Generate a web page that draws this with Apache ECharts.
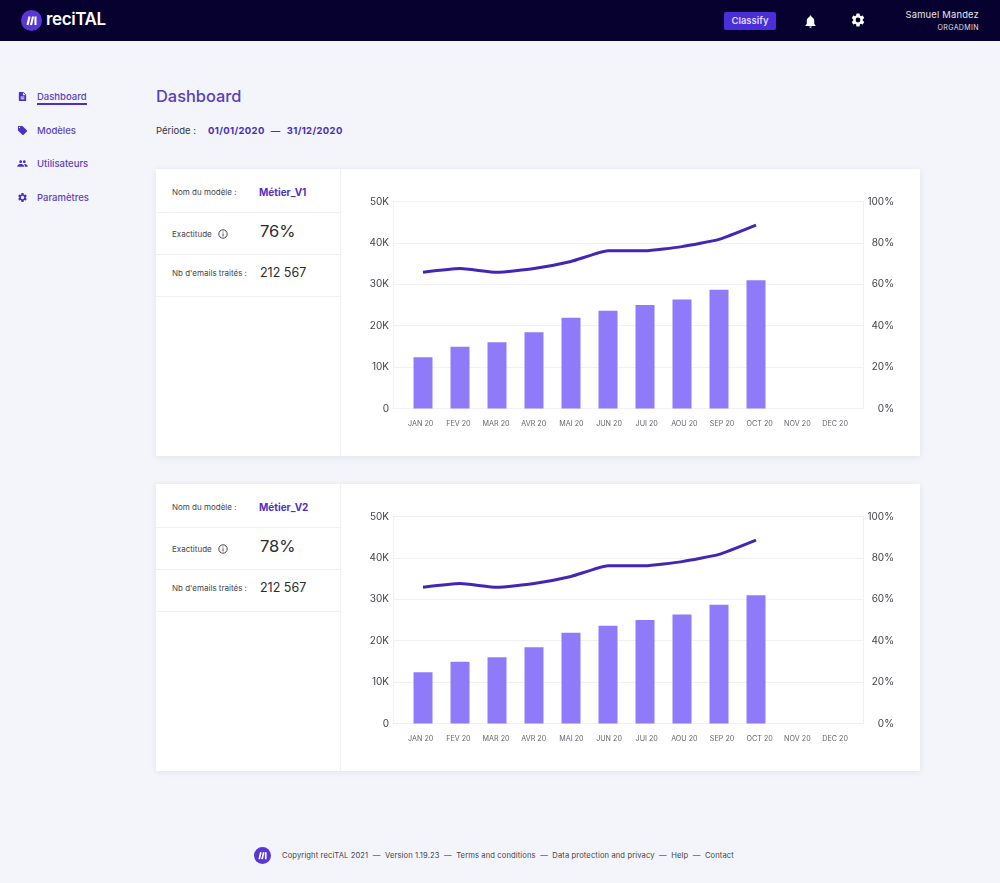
<!DOCTYPE html>
<html lang="fr">
<head>
<meta charset="utf-8">
<title>reciTAL Dashboard</title>
<script src="https://cdn.jsdelivr.net/npm/echarts@6/dist/echarts.min.js"></script>
<style>
  html, body { margin: 0; padding: 0; }
  body { width: 1000px; height: 883px; position: relative; overflow: hidden; background: #f4f5fa; font-family: Inter, "Noto Sans", sans-serif; color: #2b2b33; }
  .t { position: absolute; white-space: nowrap; line-height: 16px; height: 16px; }
  .ico { position: absolute; }
  #top { position: absolute; left: 0; top: 0; width: 1000px; height: 41px; background: #06012e; }
  .card { position: absolute; left: 156px; width: 764px; height: 287px; background: #fff; box-shadow: 0 1px 6px rgba(60,60,120,.10); }
  .sep { position: absolute; background: #f0f0f4; }
  .chart { position: absolute; left: 185px; top: 0; width: 579px; height: 287px; }
  .nav { font-size: 9.5px; font-weight: 500; color: #5b3fc0; left: 37px; }
  .lab { font-size: 8px; color: #44444c; left: 16px; }
  .model { font-size: 10px; font-weight: 700; color: #5231c4; left: 103px; }
</style>
</head>
<body>
<div id="top"></div>
<svg class="ico" style="left:21px;top:10px" width="21" height="21" viewBox="0 0 21 21"><circle cx="10.5" cy="10.5" r="10.5" fill="#5a36d6"/><path d="M6.5 15 L8.5 6.5 M10 15 L12 6.5 M14.5 6.5 V15" stroke="#fff" stroke-width="2.1" fill="none"/></svg>
<div class="t" style="left:46px;top:11px;font-size:17px;font-weight:600;color:#fff;letter-spacing:-.4px">reciTAL</div>
<div class="t" style="left:724px;top:12px;width:52px;height:18px;line-height:18px;text-align:center;background:#4a2fd8;border-radius:2px;color:#dcd8ff;font-size:9.5px;font-weight:600">Classify</div>
<svg class="ico" style="left:803px;top:14px" width="15" height="15" viewBox="0 0 24 24"><path fill="#fff" d="M12 22c1.1 0 2-.9 2-2h-4c0 1.1.9 2 2 2zm6-6v-5c0-3.07-1.63-5.64-4.5-6.32V4c0-.83-.67-1.5-1.5-1.5s-1.5.67-1.5 1.5v.68C7.64 5.36 6 7.92 6 11v5l-2 2v1h16v-1l-2-2z"/></svg>
<svg class="ico" style="left:850px;top:12px" width="16" height="16" viewBox="0 0 24 24"><path fill="#fff" d="M19.14 12.94c.04-.3.06-.61.06-.94 0-.32-.02-.64-.07-.94l2.03-1.58a.49.49 0 0 0 .12-.61l-1.92-3.32a.488.488 0 0 0-.59-.22l-2.39.96c-.5-.38-1.03-.7-1.62-.94l-.36-2.54a.484.484 0 0 0-.48-.41h-3.84c-.24 0-.43.17-.47.41l-.36 2.54c-.59.24-1.13.57-1.62.94l-2.39-.96c-.22-.08-.47 0-.59.22L2.74 8.87c-.12.21-.08.47.12.61l2.03 1.58c-.05.3-.09.63-.09.94s.02.64.07.94l-2.03 1.58a.49.49 0 0 0-.12.61l1.92 3.32c.12.22.37.29.59.22l2.39-.96c.5.38 1.03.7 1.62.94l.36 2.54c.05.24.24.41.48.41h3.84c.24 0 .44-.17.47-.41l.36-2.54c.59-.24 1.13-.56 1.62-.94l2.39.96c.22.08.47 0 .59-.22l1.92-3.32c.12-.22.07-.47-.12-.61l-2.01-1.58zM12 15.6A3.6 3.6 0 1 1 12 8.4a3.6 3.6 0 0 1 0 7.2z"/></svg>
<div class="t" style="right:21px;top:7px;font-size:9.4px;color:#e6e6ee;letter-spacing:.2px">Samuel Mandez</div>
<div class="t" style="right:21px;top:19.5px;font-size:7px;color:#e0e0ea;letter-spacing:.4px">ORGADMIN</div>

<svg class="ico" style="left:17px;top:91px" width="11" height="11" viewBox="0 0 24 24"><path fill="#4a2fc8" d="M14 2H6c-1.1 0-2 .9-2 2v16c0 1.1.9 2 2 2h12c1.1 0 2-.9 2-2V8l-6-6zm2 16H8v-2h8v2zm0-4H8v-2h8v2zm-3-5V3.5L18.5 9H13z"/></svg>
<div class="t nav" style="top:89px">Dashboard</div>
<div style="position:absolute;left:37px;top:102.5px;width:50px;height:2px;background:#4a2fc8"></div>
<svg class="ico" style="left:17px;top:125px" width="11" height="11" viewBox="0 0 24 24"><path fill="#4a2fc8" d="M21.41 11.58l-9-9C12.05 2.22 11.55 2 11 2H4c-1.1 0-2 .9-2 2v7c0 .55.22 1.05.59 1.42l9 9c.36.36.86.58 1.41.58s1.05-.22 1.41-.59l7-7c.37-.36.59-.86.59-1.41s-.23-1.06-.59-1.42zM5.5 7C4.67 7 4 6.33 4 5.5S4.67 4 5.5 4 7 4.67 7 5.5 6.33 7 5.5 7z"/></svg>
<div class="t nav" style="top:123px">Modèles</div>
<svg class="ico" style="left:17px;top:158px" width="11" height="11" viewBox="0 0 24 24"><path fill="#4a2fc8" d="M16 11c1.66 0 2.99-1.34 2.99-3S17.66 5 16 5s-3 1.34-3 3 1.34 3 3 3zm-8 0c1.66 0 2.99-1.34 2.99-3S9.66 5 8 5 5 6.34 5 8s1.34 3 3 3zm0 2c-2.33 0-7 1.17-7 3.5V19h14v-2.5C15 14.17 10.33 13 8 13zm8 0c-.29 0-.62.02-.97.05 1.16.84 1.97 1.97 1.97 3.45V19h6v-2.5c0-2.33-4.67-3.5-7-3.5z"/></svg>
<div class="t nav" style="top:156px">Utilisateurs</div>
<svg class="ico" style="left:17px;top:192px" width="11" height="11" viewBox="0 0 24 24"><path fill="#4a2fc8" d="M19.14 12.94c.04-.3.06-.61.06-.94 0-.32-.02-.64-.07-.94l2.03-1.58a.49.49 0 0 0 .12-.61l-1.92-3.32a.488.488 0 0 0-.59-.22l-2.39.96c-.5-.38-1.03-.7-1.62-.94l-.36-2.54a.484.484 0 0 0-.48-.41h-3.84c-.24 0-.43.17-.47.41l-.36 2.54c-.59.24-1.13.57-1.62.94l-2.39-.96c-.22-.08-.47 0-.59.22L2.74 8.87c-.12.21-.08.47.12.61l2.03 1.58c-.05.3-.09.63-.09.94s.02.64.07.94l-2.03 1.58a.49.49 0 0 0-.12.61l1.92 3.32c.12.22.37.29.59.22l2.39-.96c.5.38 1.03.7 1.62.94l.36 2.54c.05.24.24.41.48.41h3.84c.24 0 .44-.17.47-.41l.36-2.54c.59-.24 1.13-.56 1.62-.94l2.39.96c.22.08.47 0 .59-.22l1.92-3.32c.12-.22.07-.47-.12-.61l-2.01-1.58zM12 15.6A3.6 3.6 0 1 1 12 8.4a3.6 3.6 0 0 1 0 7.2z"/></svg>
<div class="t nav" style="top:190px">Paramètres</div>

<div class="t" style="left:156px;top:88px;font-size:16.4px;font-weight:500;color:#5b3fc0">Dashboard</div>
<div class="t" style="left:156px;top:123px;font-size:9.5px;color:#33333a">Période :</div>
<div class="t" style="left:208px;top:123px;font-size:9.5px;font-weight:700;color:#4a2fb8;letter-spacing:.35px;word-spacing:3.5px">01/01/2020 — 31/12/2020</div>

<div class="card" style="top:169px">
  <div class="sep" style="left:184px;top:0;width:1px;height:287px"></div>
  <div class="sep" style="left:0;top:43px;width:184px;height:1px"></div>
  <div class="sep" style="left:0;top:85px;width:184px;height:1px"></div>
  <div class="sep" style="left:0;top:127px;width:184px;height:1px"></div>
  <div class="t lab" style="top:15px">Nom du modèle :</div>
  <div class="t model" style="top:15px">Métier_V1</div>
  <div class="t lab" style="top:57px">Exactitude</div>
  <svg class="ico" style="left:62px;top:60px" width="10" height="10" viewBox="0 0 10 10"><circle cx="5" cy="5" r="4.2" fill="none" stroke="#33333a" stroke-width=".9"/><path d="M5 4.4V7.4M5 2.6V3.5" stroke="#33333a" stroke-width=".9"/></svg>
  <div class="t" style="left:104px;top:54px;font-size:16.5px;line-height:16px">76%</div>
  <div class="t lab" style="top:96px">Nb d'emails traités :</div>
  <div class="t" style="left:104px;top:96px;font-size:12.5px">212 567</div>
  <div class="chart" id="chartV1"></div>
</div>

<div class="card" style="top:484px">
  <div class="sep" style="left:184px;top:0;width:1px;height:287px"></div>
  <div class="sep" style="left:0;top:43px;width:184px;height:1px"></div>
  <div class="sep" style="left:0;top:85px;width:184px;height:1px"></div>
  <div class="sep" style="left:0;top:127px;width:184px;height:1px"></div>
  <div class="t lab" style="top:15px">Nom du modèle :</div>
  <div class="t model" style="top:15px">Métier_V2</div>
  <div class="t lab" style="top:57px">Exactitude</div>
  <svg class="ico" style="left:62px;top:60px" width="10" height="10" viewBox="0 0 10 10"><circle cx="5" cy="5" r="4.2" fill="none" stroke="#33333a" stroke-width=".9"/><path d="M5 4.4V7.4M5 2.6V3.5" stroke="#33333a" stroke-width=".9"/></svg>
  <div class="t" style="left:104px;top:54px;font-size:16.5px;line-height:16px">78%</div>
  <div class="t lab" style="top:96px">Nb d'emails traités :</div>
  <div class="t" style="left:104px;top:96px;font-size:12.5px">212 567</div>
  <div class="chart" id="chartV2"></div>
</div>

<svg class="ico" style="left:254px;top:847px" width="17" height="17" viewBox="0 0 21 21"><circle cx="10.5" cy="10.5" r="10.5" fill="#5a36d6"/><path d="M6.5 15 L8.5 6.5 M10 15 L12 6.5 M14.5 6.5 V15" stroke="#fff" stroke-width="2.1" fill="none"/></svg>
<div class="t" style="left:282px;top:847.5px;font-size:7.6px;color:#44444c;letter-spacing:.11px">Copyright reciTAL 2021 &nbsp;—&nbsp; Version 1.19.23 &nbsp;—&nbsp; Terms and conditions &nbsp;—&nbsp; Data protection and privacy &nbsp;—&nbsp; Help &nbsp;—&nbsp; Contact</div>

<script>
// valeurs
var months = ['JAN 20', 'FEV 20', 'MAR 20', 'AVR 20', 'MAI 20', 'JUN 20', 'JUI 20', 'AOU 20', 'SEP 20', 'OCT 20', 'NOV 20', 'DEC 20'];
var emailsV1 = [12400, 14900, 16000, 18400, 21900, 23600, 25000, 26300, 28700, 31000, null, null];
var accuracyV1 = [65.8, 67.6, 65.8, 67.6, 71, 76.2, 76.2, 78.2, 81.7, 88.6, null, null];
var emailsV2 = [12400, 14900, 16000, 18400, 21900, 23600, 25000, 26300, 28700, 31000, null, null];
var accuracyV2 = [65.8, 67.6, 65.8, 67.6, 71, 76.2, 76.2, 78.2, 81.7, 88.6, null, null];

var font = 'Inter, "Noto Sans", sans-serif';
var lineColor = '#f0f0f5';

function getOption(emails, accuracy) {
  var hiddenX = { type: 'category', data: months, show: false };
  return {
    animation: false,
    // 0: cadre et graduations, 1: barres et courbe, 2: libelles des mois
    grid: [
      { left: 52, width: 470, top: 32.5, height: 207 },
      { left: 63.5, width: 444, top: 32.5, height: 207 },
      { left: 60.9, width: 452, top: 32.5, height: 207 }
    ],
    xAxis: [
      Object.assign({}, hiddenX, { gridIndex: 0, show: true, axisTick: { show: false }, axisLabel: { show: false },
        axisLine: { lineStyle: { color: lineColor } } }),
      Object.assign({}, hiddenX, { gridIndex: 1 }),
      { type: 'category', gridIndex: 2, data: months, axisLine: { show: false }, axisTick: { show: false },
        axisLabel: { interval: 0, margin: 12, fontSize: 7.2, color: '#66666e', fontFamily: font } }
    ],
    yAxis: [
      { type: 'value', gridIndex: 0, min: 0, max: 50000, interval: 10000,
        axisLine: { show: true, lineStyle: { color: lineColor } }, axisTick: { show: false },
        splitLine: { lineStyle: { color: lineColor } },
        axisLabel: { margin: 4, fontSize: 10, padding: [3, 0, 0, 0], color: '#44444c', fontFamily: font,
          formatter: function (v) { return v === 0 ? '0' : v / 1000 + 'K'; } } },
      { type: 'value', gridIndex: 0, position: 'right', min: 0, max: 100, interval: 20,
        axisLine: { show: true, lineStyle: { color: lineColor } }, axisTick: { show: false },
        splitLine: { show: false },
        axisLabel: { margin: 31, align: 'right', fontSize: 10, padding: [3, 0, 0, 0], color: '#44444c', fontFamily: font, formatter: '{value}%' } },
      { type: 'value', gridIndex: 1, min: 0, max: 50000, show: false },
      { type: 'value', gridIndex: 1, min: 0, max: 100, show: false },
      { type: 'value', gridIndex: 2, min: 0, max: 100, show: false }
    ],
    series: [
      { type: 'bar', xAxisIndex: 1, yAxisIndex: 2, data: emails, barWidth: 19, itemStyle: { color: '#8f7bfa' } },
      { type: 'line', xAxisIndex: 1, yAxisIndex: 3, data: accuracy, smooth: 0.15, showSymbol: false,
        lineStyle: { color: '#4526b4', width: 3 } }
    ]
  };
}

echarts.init(document.getElementById('chartV1')).setOption(getOption(emailsV1, accuracyV1));
echarts.init(document.getElementById('chartV2')).setOption(getOption(emailsV2, accuracyV2));
</script>
</body>
</html>
